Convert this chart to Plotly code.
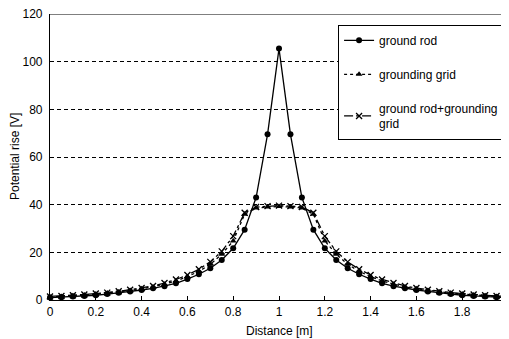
import plotly.graph_objects as go

distance = [0.0, 0.05, 0.1, 0.15, 0.2, 0.25, 0.3, 0.35, 0.4, 0.45, 0.5, 0.55, 0.6, 0.65, 0.7,
            0.75, 0.8, 0.85, 0.9, 0.95, 1.0, 1.05, 1.1, 1.15, 1.2, 1.25, 1.3, 1.35, 1.4, 1.45,
            1.5, 1.55, 1.6, 1.65, 1.7, 1.75, 1.8, 1.85, 1.9, 1.95, 2.0]

ground_rod = [1.0, 1.2, 1.5, 1.7, 2.0, 2.5, 3.0, 3.6, 4.2, 4.9, 5.8, 7.0, 8.8, 10.8, 13.3,
              16.8, 21.7, 29.5, 43.0, 69.5, 105.5, 69.5, 43.0, 29.5, 21.7, 16.8, 13.3, 10.8,
              8.8, 7.0, 5.8, 4.9, 4.2, 3.6, 3.0, 2.5, 2.0, 1.7, 1.5, 1.2, 1.0]

grounding_grid = [1.3, 1.5, 1.8, 2.1, 2.5, 2.9, 3.4, 4.0, 4.7, 5.5, 6.6, 8.0, 9.8, 12.0, 15.0,
                  19.2, 24.8, 36.0, 38.6, 39.0, 39.2, 39.0, 38.6, 36.0, 24.8, 19.2, 15.0, 12.0,
                  9.8, 8.0, 6.6, 5.5, 4.7, 4.0, 3.4, 2.9, 2.5, 2.1, 1.8, 1.5, 1.3]

rod_plus_grid = [1.5, 1.7, 2.0, 2.3, 2.7, 3.1, 3.7, 4.3, 5.0, 5.9, 7.1, 8.6, 10.5, 12.9, 16.0,
                 20.4, 26.8, 36.6, 39.0, 39.4, 39.6, 39.4, 39.0, 36.6, 26.8, 20.4, 16.0, 12.9,
                 10.5, 8.6, 7.1, 5.9, 5.0, 4.3, 3.7, 3.1, 2.7, 2.3, 2.0, 1.7, 1.5]

series_names = ["ground rod", "grounding grid", "ground rod+grounding<br>grid"]

x_ticks = [0, 0.2, 0.4, 0.6, 0.8, 1, 1.2, 1.4, 1.6, 1.8, 2]
y_ticks = [0, 20, 40, 60, 80, 100, 120]

x_title = "Distance [m]"
y_title = "Potential rise [V]"

fig = go.Figure()

fig.add_trace(go.Scatter(
    x=distance, y=ground_rod, name=series_names[0], mode="lines+markers",
    line=dict(color="black", width=1.3, dash="solid"),
    marker=dict(symbol="circle", size=6, color="black"),
    legendgroup="a", cliponaxis=False))
fig.add_trace(go.Scatter(
    x=distance, y=grounding_grid, name=series_names[1], mode="lines+markers",
    line=dict(color="black", width=1.3, dash="dot"),
    marker=dict(symbol="triangle-up", size=6, color="black"),
    legendgroup="b", cliponaxis=False))
fig.add_trace(go.Scatter(
    x=distance, y=rod_plus_grid, name=series_names[2], mode="lines+markers",
    line=dict(color="black", width=1.3, dash="dashdot"),
    marker=dict(symbol="x-thin", size=6, color="black", line=dict(color="black", width=1.3)),
    legendgroup="c", cliponaxis=False))

# top border line at 120
fig.add_shape(type="line", xref="paper", yref="y", x0=0, x1=1, y0=120, y1=120,
              line=dict(color="black", width=1.2))

# axis titles as annotations (precise placement)
fig.add_annotation(text=x_title, xref="paper", yref="paper", x=0.5, y=0,
                   xanchor="center", yanchor="top", yshift=-22, showarrow=False,
                   font=dict(size=12, color="black"))
fig.add_annotation(text=y_title, xref="paper", yref="paper", x=0, y=0.5,
                   xanchor="center", yanchor="middle", xshift=-35, textangle=-90,
                   showarrow=False, font=dict(size=12, color="black"))

# The page places the plot 8px in from the top-left corner; size accounts for it.
fig.update_layout(
    width=501, height=331,
    margin=dict(l=42, r=1, t=6, b=39),
    paper_bgcolor="white", plot_bgcolor="white",
    font=dict(family="Liberation Sans, Arial, sans-serif", size=12, color="black"),
    showlegend=True,
    legend=dict(
        x=0.629, y=0.962, xanchor="left", yanchor="top",
        bgcolor="white", bordercolor="black", borderwidth=1,
        font=dict(size=12, color="black"),
        tracegroupgap=15,
        itemwidth=30,
    ),
    xaxis=dict(
        range=[0, 2], tickvals=x_ticks, ticktext=[f"{v:g}" for v in x_ticks],
        showgrid=False, zeroline=False, automargin=False,
        showline=True, linecolor="black", linewidth=1.2,
        ticks="inside", ticklen=4, tickcolor="black",
        tickfont=dict(size=12), ticklabeloverflow="allow",
    ),
    yaxis=dict(
        range=[0, 120], tickvals=y_ticks, automargin=False,
        showgrid=True, gridcolor="black", gridwidth=1, griddash="4px,3px",
        zeroline=False,
        showline=True, linecolor="black", linewidth=1.2,
        ticks="", ticklabelstandoff=4,
        tickfont=dict(size=12), ticklabeloverflow="allow",
    ),
)

fig.write_html("out.html")
